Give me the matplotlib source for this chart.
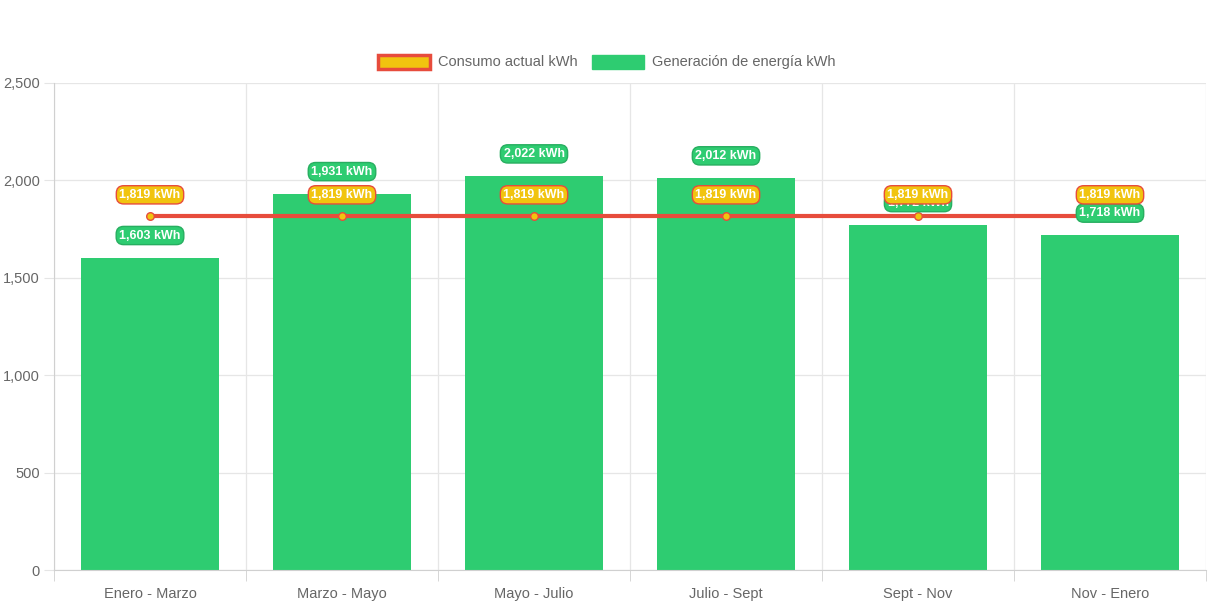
import numpy as np
import matplotlib.pyplot as plt
from matplotlib.patches import Patch
from matplotlib.ticker import FuncFormatter, MultipleLocator

# Datos
periodos = ["Enero - Marzo", "Marzo - Mayo", "Mayo - Julio", "Julio - Sept", "Sept - Nov", "Nov - Enero"]
generacion = [1603, 1931, 2022, 2012, 1772, 1718]
consumo = [1819, 1819, 1819, 1819, 1819, 1819]

VERDE = "#2ecc71"
AMARILLO = "#f1c40f"
ROJO = "#e74c3c"
GRIS = "#666666"

plt.rcParams['font.family'] = ['Liberation Sans', 'DejaVu Sans']

fig = plt.figure(figsize=(12.13, 6.06), dpi=100)
ax = fig.add_axes([54 / 1213, 1 - 570 / 606, (1206 - 54) / 1213, (570 - 83) / 606])

x = np.arange(len(periodos))
ax.bar(x, generacion, width=0.72, color=VERDE, zorder=2)
ax.plot(x, consumo, color=ROJO, linewidth=3, zorder=3)
ax.scatter(x, consumo, s=30, color=AMARILLO, edgecolor=ROJO, linewidth=1, zorder=4)

# etiquetas de valores
for xi, v in zip(x, generacion):
    ax.annotate(f"{v:,} kWh", (xi, v), xytext=(0, 16), textcoords="offset points",
                ha="center", va="center", fontsize=9, fontweight="bold", color="white",
                bbox=dict(boxstyle="round,pad=0.25,rounding_size=0.6", fc=VERDE, ec="#27ae60", lw=1),
                zorder=5)
for xi, v in zip(x, consumo):
    ax.annotate(f"{v:,} kWh", (xi, v), xytext=(0, 15), textcoords="offset points",
                ha="center", va="center", fontsize=9, fontweight="bold", color="white",
                bbox=dict(boxstyle="round,pad=0.25,rounding_size=0.6", fc=AMARILLO, ec=ROJO, lw=1),
                zorder=6)

ax.set_xlim(-0.5, len(periodos) - 0.5)
ax.set_ylim(0, 2500)
ax.yaxis.set_major_locator(MultipleLocator(500))
ax.yaxis.set_major_formatter(FuncFormatter(lambda v, p: f"{int(v):,}"))
ax.set_xticks(x)
ax.set_xticklabels(periodos)
ax.set_xticks(np.arange(-0.5, len(periodos)), minor=True)

ax.grid(True, which="major", axis="y", color="#e6e6e6", linewidth=0.9, zorder=0)
ax.grid(True, which="minor", axis="x", color="#e6e6e6", linewidth=0.9, zorder=0)
ax.tick_params(axis="x", which="major", length=0, labelsize=10.5, colors=GRIS, pad=12)
ax.tick_params(axis="x", which="minor", length=8, color="#d0d0d0")
ax.tick_params(axis="y", length=7, color="#e5e5e5", labelsize=10.5, labelcolor=GRIS, pad=3)
for s in ["top", "right"]:
    ax.spines[s].set_visible(False)
for s in ["left", "bottom"]:
    ax.spines[s].set_color("#d0d0d0")

handles = [Patch(facecolor=AMARILLO, edgecolor=ROJO, linewidth=2.5, label="Consumo actual kWh"),
           Patch(facecolor=VERDE, edgecolor=VERDE, label="Generación de energía kWh")]
fig.legend(handles=handles, loc="center", bbox_to_anchor=(0.5, 1 - 62 / 606), ncol=2,
           frameon=False, fontsize=10.5, labelcolor=GRIS, handlelength=3.6, handleheight=1.1,
           columnspacing=1.0, handletextpad=0.5)

fig.savefig("out.png", dpi=100)
